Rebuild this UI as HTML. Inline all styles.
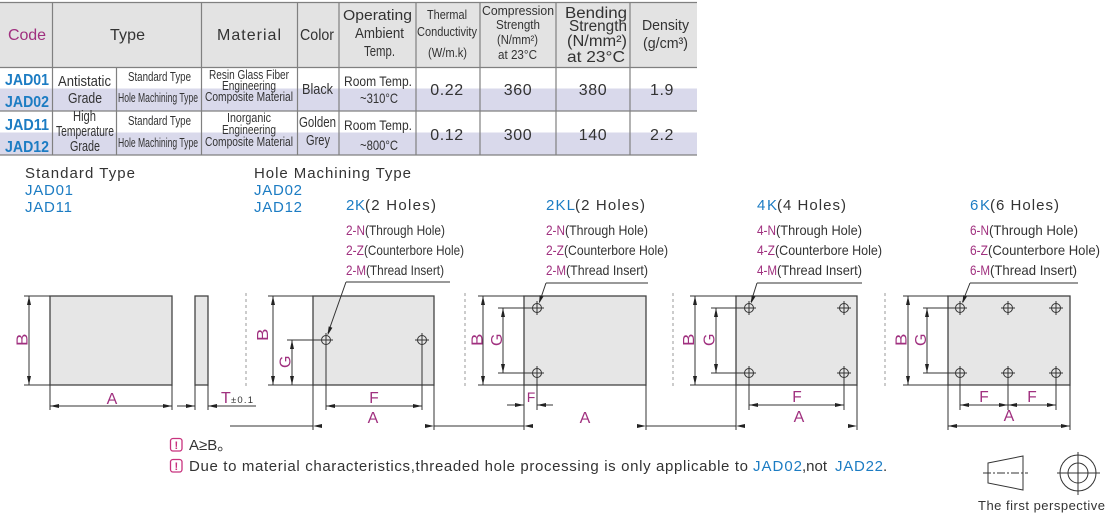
<!DOCTYPE html>
<html><head><meta charset="utf-8"><style>
html,body{margin:0;padding:0;background:#fff;}
svg{display:block;font-family:"Liberation Sans",Arial,sans-serif;}
.d{fill:#333;}
.b{fill:#1c7cc3;}
.p{fill:#a0307f;}
.c{font-weight:bold;fill:#1c7cc3;font-size:16px;}
</style></head><body>
<svg width="1110" height="517" viewBox="0 0 1110 517" xmlns="http://www.w3.org/2000/svg">
<defs>
<g id="h"><circle cx="0" cy="0" r="4.5" fill="none" stroke="#333" stroke-width="1"/><path d="M-7 0H7M0 -7V7" stroke="#333" stroke-width="1"/></g>
</defs>

<!-- TABLE -->
<rect x="0" y="2" width="697" height="65" fill="#e3e3e3"/>
<rect x="0" y="88.5" width="697" height="22" fill="#d9d9eb"/>
<rect x="0" y="132.5" width="697" height="22" fill="#d9d9eb"/>
<g stroke="#808080" stroke-width="1.2" fill="none">
<path d="M0 2.5H697M0 67.5H697M0 111H697M0 155H697"/>
<path d="M52.5 2V155M201.5 2V155M297.5 2V155M339 2V155M416 2V155M480 2V155M556 2V155M630 2V155M116.5 67V155"/>
</g>
<g font-size="16" class="d">
<text x="8" y="40" textLength="38" class="p">Code</text>
<text x="110" y="40" textLength="35">Type</text>
<text x="217" y="40" textLength="64">Material</text>
<text x="300" y="40" textLength="34" lengthAdjust="spacingAndGlyphs">Color</text>
</g>
<g font-size="15" class="d">
<text x="343" y="20" textLength="69" lengthAdjust="spacingAndGlyphs">Operating</text>
<text x="355" y="38" textLength="49" lengthAdjust="spacingAndGlyphs">Ambient</text>
<text x="364" y="56" textLength="31" lengthAdjust="spacingAndGlyphs">Temp.</text>
</g>
<g font-size="13" class="d">
<text x="427" y="19" textLength="40" lengthAdjust="spacingAndGlyphs">Thermal</text>
<text x="417" y="36" textLength="60" lengthAdjust="spacingAndGlyphs">Conductivity</text>
<text x="428" y="57" textLength="39" lengthAdjust="spacingAndGlyphs">(W/m.k)</text>
<text x="482" y="15" textLength="72" lengthAdjust="spacingAndGlyphs">Compression</text>
<text x="496" y="29" textLength="44" lengthAdjust="spacingAndGlyphs">Strength</text>
<text x="497" y="44" textLength="41" lengthAdjust="spacingAndGlyphs">(N/mm²)</text>
<text x="498" y="59" textLength="39" lengthAdjust="spacingAndGlyphs">at 23°C</text>
</g>
<g font-size="15.5" class="d">
<text x="565" y="18" textLength="62" lengthAdjust="spacingAndGlyphs">Bending</text>
<text x="569" y="31" textLength="58" lengthAdjust="spacingAndGlyphs">Strength</text>
<text x="567" y="46" textLength="60" lengthAdjust="spacingAndGlyphs">(N/mm²)</text>
<text x="567" y="62" textLength="58" lengthAdjust="spacingAndGlyphs">at 23°C</text>
<text x="642" y="30" textLength="47" lengthAdjust="spacingAndGlyphs" font-size="15">Density</text>
<text x="643" y="48" textLength="45" lengthAdjust="spacingAndGlyphs" font-size="15">(g/cm³)</text>
</g>
<text x="5" y="85" textLength="44" lengthAdjust="spacingAndGlyphs" class="c">JAD01</text>
<text x="5" y="107" textLength="44" lengthAdjust="spacingAndGlyphs" class="c">JAD02</text>
<text x="5" y="130" textLength="44" lengthAdjust="spacingAndGlyphs" class="c">JAD11</text>
<text x="5" y="152" textLength="44" lengthAdjust="spacingAndGlyphs" class="c">JAD12</text>
<g font-size="14.5" class="d">
<text x="58" y="86" textLength="53" lengthAdjust="spacingAndGlyphs">Antistatic</text>
<text x="68" y="103" textLength="34" lengthAdjust="spacingAndGlyphs">Grade</text>
<text x="73" y="121" textLength="23" lengthAdjust="spacingAndGlyphs">High</text>
<text x="56" y="136" textLength="58" lengthAdjust="spacingAndGlyphs">Temperature</text>
<text x="70" y="151" textLength="30" lengthAdjust="spacingAndGlyphs">Grade</text>
</g>
<g font-size="12.5" class="d">
<text x="128" y="81" textLength="63" lengthAdjust="spacingAndGlyphs">Standard Type</text>
<text x="118" y="102" textLength="80" lengthAdjust="spacingAndGlyphs">Hole Machining Type</text>
<text x="128" y="125" textLength="63" lengthAdjust="spacingAndGlyphs">Standard Type</text>
<text x="118" y="147" textLength="80" lengthAdjust="spacingAndGlyphs">Hole Machining Type</text>
</g>
<g font-size="13" class="d">
<text x="209" y="79" textLength="80" lengthAdjust="spacingAndGlyphs">Resin Glass Fiber</text>
<text x="222" y="90" textLength="54" lengthAdjust="spacingAndGlyphs">Engineering</text>
<text x="205" y="101" textLength="88" lengthAdjust="spacingAndGlyphs">Composite Material</text>
<text x="227" y="122" textLength="44" lengthAdjust="spacingAndGlyphs">Inorganic</text>
<text x="222" y="134" textLength="54" lengthAdjust="spacingAndGlyphs">Engineering</text>
<text x="205" y="146" textLength="88" lengthAdjust="spacingAndGlyphs">Composite Material</text>
</g>
<g font-size="15" class="d">
<text x="302" y="94" textLength="31" lengthAdjust="spacingAndGlyphs">Black</text>
<text x="299" y="127" textLength="37" lengthAdjust="spacingAndGlyphs">Golden</text>
<text x="306" y="145" textLength="24" lengthAdjust="spacingAndGlyphs">Grey</text>
</g>
<g font-size="14" class="d">
<text x="344" y="86" textLength="68" lengthAdjust="spacingAndGlyphs">Room Temp.</text>
<text x="360" y="103" textLength="38" lengthAdjust="spacingAndGlyphs">~310°C</text>
<text x="344" y="130" textLength="68" lengthAdjust="spacingAndGlyphs">Room Temp.</text>
<text x="360" y="150" textLength="38" lengthAdjust="spacingAndGlyphs">~800°C</text>
</g>
<g font-size="16" class="d" text-anchor="middle" letter-spacing="0.6">
<text x="447" y="95">0.22</text>
<text x="518" y="95">360</text>
<text x="593" y="95">380</text>
<text x="662" y="95">1.9</text>
<text x="447" y="140">0.12</text>
<text x="518" y="140">300</text>
<text x="593" y="140">140</text>
<text x="662" y="140">2.2</text>
</g>

<!-- SECTION LABELS -->
<g font-size="15">
<text x="25" y="178" textLength="110" class="d">Standard Type</text>
<text x="25" y="195" textLength="48" class="b">JAD01</text>
<text x="25" y="212" textLength="47" class="b">JAD11</text>
<text x="254" y="178" textLength="157" class="d">Hole Machining Type</text>
<text x="254" y="195" textLength="48" class="b">JAD02</text>
<text x="254" y="212" textLength="48" class="b">JAD12</text>
</g>
<g font-size="15">
<text x="346" y="210" textLength="19" class="b">2K</text><text x="365" y="210" textLength="71" class="d">(2 Holes)</text>
<text x="546" y="210" textLength="29" class="b">2KL</text><text x="575" y="210" textLength="70" class="d">(2 Holes)</text>
<text x="757" y="210" textLength="20" class="b">4K</text><text x="777" y="210" textLength="69" class="d">(4 Holes)</text>
<text x="970" y="210" textLength="20" class="b">6K</text><text x="990" y="210" textLength="69" class="d">(6 Holes)</text>
</g>
<g font-size="14">
<text x="346" y="235" textLength="19" lengthAdjust="spacingAndGlyphs" class="p">2-N</text><text x="365" y="235" textLength="80" lengthAdjust="spacingAndGlyphs" class="d">(Through Hole)</text>
<text x="346" y="255" textLength="18" lengthAdjust="spacingAndGlyphs" class="p">2-Z</text><text x="364" y="255" textLength="100" lengthAdjust="spacingAndGlyphs" class="d">(Counterbore Hole)</text>
<text x="346" y="275" textLength="20" lengthAdjust="spacingAndGlyphs" class="p">2-M</text><text x="366" y="275" textLength="78" lengthAdjust="spacingAndGlyphs" class="d">(Thread Insert)</text>

<text x="546" y="235" textLength="19" lengthAdjust="spacingAndGlyphs" class="p">2-N</text><text x="565" y="235" textLength="83" lengthAdjust="spacingAndGlyphs" class="d">(Through Hole)</text>
<text x="546" y="255" textLength="18" lengthAdjust="spacingAndGlyphs" class="p">2-Z</text><text x="564" y="255" textLength="104" lengthAdjust="spacingAndGlyphs" class="d">(Counterbore Hole)</text>
<text x="546" y="275" textLength="20" lengthAdjust="spacingAndGlyphs" class="p">2-M</text><text x="566" y="275" textLength="82" lengthAdjust="spacingAndGlyphs" class="d">(Thread Insert)</text>

<text x="757" y="235" textLength="19" lengthAdjust="spacingAndGlyphs" class="p">4-N</text><text x="776" y="235" textLength="86" lengthAdjust="spacingAndGlyphs" class="d">(Through Hole)</text>
<text x="757" y="255" textLength="18" lengthAdjust="spacingAndGlyphs" class="p">4-Z</text><text x="775" y="255" textLength="107" lengthAdjust="spacingAndGlyphs" class="d">(Counterbore Hole)</text>
<text x="757" y="275" textLength="20" lengthAdjust="spacingAndGlyphs" class="p">4-M</text><text x="777" y="275" textLength="85" lengthAdjust="spacingAndGlyphs" class="d">(Thread Insert)</text>

<text x="970" y="235" textLength="19" lengthAdjust="spacingAndGlyphs" class="p">6-N</text><text x="989" y="235" textLength="89" lengthAdjust="spacingAndGlyphs" class="d">(Through Hole)</text>
<text x="970" y="255" textLength="18" lengthAdjust="spacingAndGlyphs" class="p">6-Z</text><text x="988" y="255" textLength="112" lengthAdjust="spacingAndGlyphs" class="d">(Counterbore Hole)</text>
<text x="970" y="275" textLength="20" lengthAdjust="spacingAndGlyphs" class="p">6-M</text><text x="990" y="275" textLength="87" lengthAdjust="spacingAndGlyphs" class="d">(Thread Insert)</text>
</g>

<!-- separators -->
<path d="M246 293V388M465 293V388M673 293V388M885 293V388" stroke="#9a9a9a" stroke-width="1" stroke-dasharray="3,3"/>

<!-- plates -->
<g fill="#e6e6e6" stroke="#444" stroke-width="1.3">
<rect x="50" y="296" width="122" height="89"/>
<rect x="195" y="296" width="13" height="89"/>
<rect x="313" y="296" width="121" height="89"/>
<rect x="524" y="296" width="122" height="89"/>
<rect x="736" y="296" width="121" height="89"/>
<rect x="948" y="296" width="122" height="89"/>
</g>

<!-- holes -->
<use href="#h" x="326" y="340"/><use href="#h" x="422" y="340"/>
<use href="#h" x="537" y="308"/><use href="#h" x="537" y="373"/>
<use href="#h" x="749" y="308"/><use href="#h" x="844" y="308"/><use href="#h" x="749" y="373"/><use href="#h" x="844" y="373"/>
<use href="#h" x="960" y="308"/><use href="#h" x="1008" y="308"/><use href="#h" x="1056" y="308"/>
<use href="#h" x="960" y="373"/><use href="#h" x="1008" y="373"/><use href="#h" x="1056" y="373"/>

<!-- dimension lines -->
<g stroke="#333" stroke-width="1" fill="none">
<path d="M24 296H50M24 385H50M29 296V385"/>
<path d="M50 385V410M172 385V410M50 406H172"/>
<path d="M195 385V410M208 385V410M177 406H195M208 406H256"/>
<path d="M268 296H313M268 385H313M273 296V385"/>
<path d="M287 340H326M292 340V385"/>
<path d="M326 346V410M422 346V410M326 406H422"/>
<path d="M313 385V430M434 385V430M230 426H313M434 426H524"/>
<path d="M346 282H450M346 282L328 333"/>
<path d="M478 296H524M478 385H524M483 296V385"/>
<path d="M498 308H537M498 373H537M503 308V373"/>
<path d="M537 379V410M507 405H524M537 405H553"/>
<path d="M524 385V430M646 385V430M646 426H736"/>
<path d="M546 283H648M546 283L539.5 302"/>
<path d="M690 296H736M690 385H736M695 296V385"/>
<path d="M711 308H749M711 373H749M716 308V373"/>
<path d="M749 379V410M844 379V410M749 405H844"/>
<path d="M736 385V430M857 385V430"/>
<path d="M757 283H862M757 283L751 302"/>
<path d="M903 296H948M903 385H948M908 296V385"/>
<path d="M923 308H960M923 373H960M927 308V373"/>
<path d="M960 379V410M1008 379V410M1056 379V410M960 405H1056"/>
<path d="M948 385V430M1070 385V430M948 426H1070"/>
<path d="M970 283H1078M970 283L962.5 302"/>
</g>

<!-- arrowheads -->
<g fill="#222">
<polygon points="29,296 27,305 31,305"/><polygon points="29,385 27,376 31,376"/>
<polygon points="50,406 59,404 59,408"/><polygon points="172,406 163,404 163,408"/>
<polygon points="195,406 186,404 186,408"/><polygon points="208,406 217,404 217,408"/>

<polygon points="273,296 271,305 275,305"/><polygon points="273,385 271,376 275,376"/>
<polygon points="292,340 290,349 294,349"/><polygon points="292,385 290,376 294,376"/>
<polygon points="326,406 335,404 335,408"/><polygon points="422,406 413,404 413,408"/>
<polygon points="313,426 322,424 322,428"/><polygon points="434,426 425,424 425,428"/>
<polygon points="327.5,335.5 332.4,327.7 328.7,326.4"/>

<polygon points="483,296 481,305 485,305"/><polygon points="483,385 481,376 485,376"/>
<polygon points="503,308 501,317 505,317"/><polygon points="503,373 501,364 505,364"/>
<polygon points="524,405 515,403 515,407"/><polygon points="537,405 546,403 546,407"/>
<polygon points="524,426 533,424 533,428"/><polygon points="646,426 637,424 637,428"/>
<polygon points="539,303.5 543.5,296.5 539.7,295.2"/>

<polygon points="695,296 693,305 697,305"/><polygon points="695,385 693,376 697,376"/>
<polygon points="716,308 714,317 718,317"/><polygon points="716,373 714,364 718,364"/>
<polygon points="749,405 758,403 758,407"/><polygon points="844,405 835,403 835,407"/>
<polygon points="736,426 745,424 745,428"/><polygon points="857,426 848,424 848,428"/>
<polygon points="751,303.5 755.5,296.5 751.7,295.2"/>

<polygon points="908,296 906,305 910,305"/><polygon points="908,385 906,376 910,376"/>
<polygon points="927,308 925,317 929,317"/><polygon points="927,373 925,364 929,364"/>
<polygon points="960,405 969,403 969,407"/><polygon points="1008,405 999,403 999,407"/>
<polygon points="1008,405 1017,403 1017,407"/><polygon points="1056,405 1047,403 1047,407"/>
<polygon points="948,426 957,424 957,428"/><polygon points="1070,426 1061,424 1061,428"/>
<polygon points="962.5,303.5 967,296.5 963.2,295.2"/>
</g>

<!-- dimension labels -->
<g font-size="15.5" class="p">
<text transform="translate(27.5,346) rotate(-90)" textLength="12.5" lengthAdjust="spacingAndGlyphs">B</text>
<text transform="translate(268,341) rotate(-90)" textLength="12.5" lengthAdjust="spacingAndGlyphs">B</text>
<text transform="translate(290.5,368) rotate(-90)" textLength="12.5" lengthAdjust="spacingAndGlyphs">G</text>
<text transform="translate(482.5,346) rotate(-90)" textLength="12.5" lengthAdjust="spacingAndGlyphs">B</text>
<text transform="translate(502,346) rotate(-90)" textLength="12.5" lengthAdjust="spacingAndGlyphs">G</text>
<text transform="translate(694,346) rotate(-90)" textLength="12.5" lengthAdjust="spacingAndGlyphs">B</text>
<text transform="translate(714.5,346) rotate(-90)" textLength="12.5" lengthAdjust="spacingAndGlyphs">G</text>
<text transform="translate(906.5,346) rotate(-90)" textLength="12.5" lengthAdjust="spacingAndGlyphs">B</text>
<text transform="translate(926,346) rotate(-90)" textLength="12.5" lengthAdjust="spacingAndGlyphs">G</text>
</g>
<g font-size="16" class="p" text-anchor="middle">
<text x="112" y="404">A</text>
<text x="374" y="403" font-size="15.5">F</text>
<text x="373" y="423">A</text>
<text x="531" y="402" font-size="14">F</text>
<text x="585" y="423">A</text>
<text x="797" y="402" font-size="15.5">F</text>
<text x="799" y="422">A</text>
<text x="984" y="402" font-size="15.5">F</text>
<text x="1032" y="402" font-size="15.5">F</text>
<text x="1009" y="421">A</text>
</g>
<text x="221" y="403" font-size="16" class="p">T</text>
<text x="231" y="403" font-size="9.5" class="d" textLength="22">±0.1</text>

<!-- notes -->
<g fill="none" stroke="#c8327e" stroke-width="1.3">
<rect x="170.5" y="438.5" width="11.5" height="12.5" rx="2.5"/>
<rect x="170.5" y="459.5" width="11.5" height="12.5" rx="2.5"/>
</g>
<g font-size="11" font-weight="bold" fill="#c8327e" text-anchor="middle">
<text x="176.3" y="449">!</text>
<text x="176.3" y="470">!</text>
</g>
<g font-size="15" class="d">
<text x="189" y="450">A≥B。</text>
<text x="189" y="471" textLength="559">Due to material characteristics,threaded hole processing is only applicable to</text>
<text x="753" y="471" textLength="49" class="b">JAD02</text>
<text x="802" y="471">,not</text>
<text x="835" y="471" textLength="48" class="b">JAD22</text>
<text x="883" y="471">.</text>
</g>

<!-- first perspective icon -->
<g stroke="#333" stroke-width="1" fill="none">
<polygon points="988,463 1023,456 1023,490 988,483"/>
<path d="M983 473H1028" stroke-dasharray="8,2,2,2"/>
<circle cx="1078" cy="473" r="18"/>
<circle cx="1078" cy="473" r="10"/>
<path d="M1057 473H1100M1078 452V495"/>
</g>
<text x="978" y="510" font-size="13" textLength="127" class="d">The first perspective</text>
</svg>
</body></html>
